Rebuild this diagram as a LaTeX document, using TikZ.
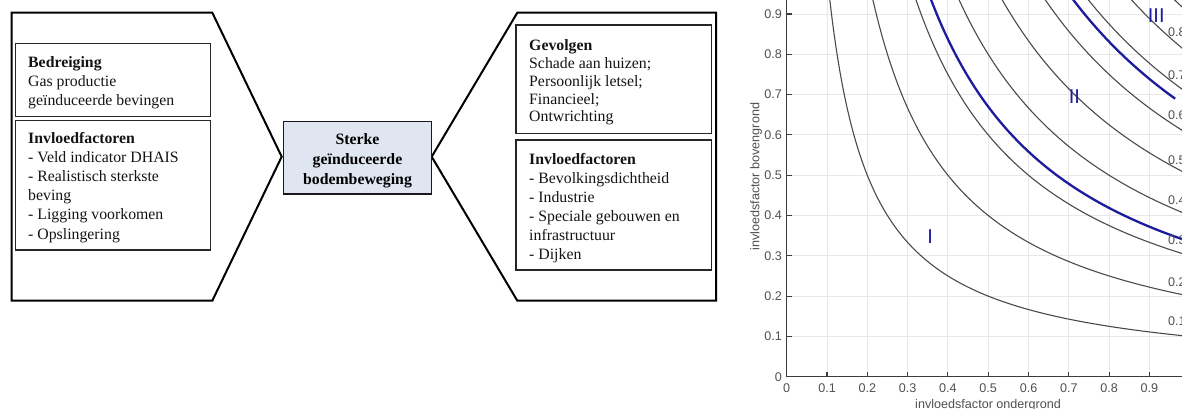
\documentclass[tikz,border=0pt]{standalone}
\usepackage{fontspec}
\setmainfont{Liberation Serif}
\newfontfamily\plotfont{Liberation Sans}
\definecolor{coreblue}{HTML}{DFE6F2}
\definecolor{gridgray}{HTML}{E8E8E8}
\definecolor{axisgray}{HTML}{3C3C3C}
\definecolor{labgray}{HTML}{505050}
\definecolor{curvegray}{HTML}{4A4A4A}
\definecolor{boundblue}{HTML}{1C1C9C}
\begin{document}
\begin{tikzpicture}[x=1pt,y=-1pt,
  chev/.style={draw=black,line width=2pt,line join=miter},
  infobox/.style={draw=black!85,line width=1.1pt},
  boxtext/.style={anchor=north west,inner sep=0pt,align=left,text=black!92},
  corebox/.style={draw=black!90,line width=1.4pt,fill=coreblue,align=center,inner sep=0pt,minimum width=148.4pt,minimum height=72.3pt,font=\bfseries\fontsize{15.8}{20}\selectfont},
  gridl/.style={draw=gridgray,line width=0.9pt},
  axisl/.style={draw=axisgray,line width=1.1pt},
  ticklab/.style={inner sep=0pt,text=labgray,font=\plotfont\fontsize{12.6}{14}\selectfont},
  contour/.style={draw=curvegray,line width=1.1pt},
  boundary/.style={draw=boundblue,line width=2.3pt},
  region/.style={inner sep=0pt,text=boundblue,font=\plotfont\fontsize{20}{22}\selectfont},
]
\useasboundingbox (0,0) rectangle (1182,409);

% chevrons
\draw[chev] (11.7,12.7) -- (212.3,12.7) -- (281.7,156.7) -- (212.3,300.7) -- (11.7,300.7) -- cycle;
\draw[chev] (716,12.7) -- (517.3,12.7) -- (431.7,156.7) -- (517.3,300.7) -- (716,300.7) -- cycle;

% inner boxes
\draw[infobox] (15.7,43.3) rectangle (210.7,116.7);
\draw[infobox] (15.7,120.7) rectangle (210.7,250);
\draw[infobox] (516,25) rectangle (711.7,133.3);
\draw[infobox] (516,140) rectangle (711.7,270);

\node[boxtext,font=\fontsize{15.8}{19.2}\selectfont] (threat) at (28,56)
  {\textbf{Bedreiging}\\Gas productie\\geïnduceerde bevingen};
\node[boxtext,font=\fontsize{15.8}{19.2}\selectfont] (factorsL) at (28,131.7)
  {\textbf{Invloedfactoren}\\- Veld indicator DHAIS\\- Realistisch sterkste\\beving\\- Ligging voorkomen\\- Opslingering};
\node[boxtext,font=\fontsize{15.8}{17.9}\selectfont] (effects) at (529,39.2)
  {\textbf{Gevolgen}\\Schade aan huizen;\\Persoonlijk letsel;\\Financieel;\\Ontwrichting};
\node[boxtext,font=\fontsize{15.8}{18.9}\selectfont] (factorsR) at (529,153.5)
  {\textbf{Invloedfactoren}\\- Bevolkingsdichtheid\\- Industrie\\- Speciale gebouwen en\\infrastructuur\\- Dijken};

\node[corebox] (core) at (357.5,157.9) {\rule{0pt}{16pt}Sterke\\geïnduceerde\\bodembeweging};

% plot
\begin{scope}
\clip (740,0) rectangle (1182,409);
\begin{scope}[shift={(786.7,376.7)},x=403pt,y=403pt]
  \foreach \i in {1,...,10} {
    \pgfmathsetmacro\v{\i/10}
    \draw[gridl] (\v,0) -- (\v,1.1);
    \draw[gridl] (0,\v) -- (1.1,\v);
  }
  \draw[axisl] (0,1.1) -- (0,0) -- (1.1,0);
  \foreach \i in {0,...,10} {
    \pgfmathsetmacro\v{\i/10}
    \draw[axisl] (\v,0) -- (\v,0.012);
    \draw[axisl] (0,\v) -- (0.012,\v);
  }
  \foreach \i in {0,...,9} {
    \pgfmathsetmacro\v{\i/10}
    \node[ticklab,anchor=center] (xt\i) at (\v,-0.0288) {\ifnum\i=0 0\else 0.\i\fi};
    \node[ticklab,anchor=east] (yt\i) at (-0.0117,\v) {\ifnum\i=0 0\else 0.\i\fi};
  }
  \foreach \c in {1,...,9} {
    \pgfmathsetmacro\cc{\c/10}
    \draw[contour] plot[domain=\cc:1.05,samples=120,smooth] (\x,{\cc/\x});
  }
  \draw[boundary] plot[domain=0.335:1.05,samples=120,smooth] (\x,{0.335/\x});
  \draw[boundary] plot[domain=0.665:0.964,samples=80,smooth] (\x,{0.665/\x});
  % contour labels
  \node[ticklab,anchor=west] (c8) at (0.946,0.855) {0.8};
  \node[ticklab,anchor=west] (c7) at (0.946,0.748) {0.7};
  \node[ticklab,anchor=west] (c6) at (0.946,0.649) {0.6};
  \node[ticklab,anchor=west] (c5) at (0.946,0.537) {0.5};
  \node[ticklab,anchor=west] (c4) at (0.946,0.438) {0.4};
  \node[ticklab,anchor=west] (c3) at (0.946,0.340) {0.3};
  \node[ticklab,anchor=west] (c2) at (0.946,0.235) {0.2};
  \node[ticklab,anchor=west] (c1) at (0.946,0.139) {0.1};
  % regions
  \node[region] (r3) at (0.917,0.897) {III};
  \node[region] (r2) at (0.714,0.695) {II};
  \node[region] (r1) at (0.356,0.347) {I};
  % axis titles
  \node[ticklab,rotate=90] (ylab) at (-0.076,0.496) {invloedsfactor bovengrond};
  \node[ticklab] (xlab) at (0.4997,-0.07) {invloedsfactor ondergrond};
\end{scope}
\end{scope}
\end{tikzpicture}
\end{document}
